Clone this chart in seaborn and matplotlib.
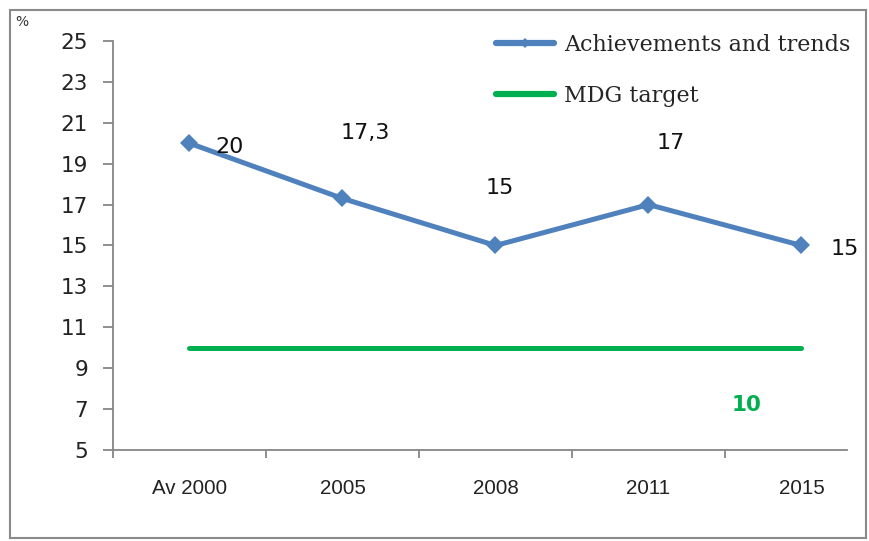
import matplotlib
matplotlib.use("Agg")
import matplotlib.pyplot as plt
import seaborn as sns
import pandas as pd
from matplotlib.patches import Rectangle
from matplotlib.lines import Line2D

categories = ["Av 2000", "2005", "2008", "2011", "2015"]
achievements = [20, 17.3, 15, 17, 15]
mdg_target = [10, 10, 10, 10, 10]
value_labels = ["20", "17,3", "15", "17", "15"]
target_label = "10"
yticks = [5, 7, 9, 11, 13, 15, 17, 19, 21, 23, 25]

sns.set_theme(style="white")
plt.rcParams["font.family"] = ["DejaVu Sans"]

BLUE = "#4F81BD"
GREEN = "#00B050"
GRAY = "#868686"

fig = plt.figure(figsize=(8.7, 5.41), dpi=100)
W, H = 870, 541
ax = fig.add_axes([113 / W, 1 - 450 / H, (847 - 113) / W, (450 - 41) / H])

df = pd.DataFrame({"cat": categories, "ach": achievements, "tgt": mdg_target})
sns.lineplot(data=df, x="cat", y="ach", ax=ax, color=BLUE, linewidth=3.6,
             marker="D", markersize=9, markeredgewidth=0, sort=False)
sns.lineplot(data=df, x="cat", y="tgt", ax=ax, color=GREEN, linewidth=3.6,
             sort=False)

ax.set_xlim(-0.5, -0.5 + (847 - 113) / 153.0)
ax.set_ylim(5, 25)
ax.set_yticks(yticks)
ax.set_yticklabels([str(v) for v in yticks])
ax.set_xticks(range(len(categories)))
ax.set_xticklabels(categories, family=["Liberation Sans", "DejaVu Sans"], fontsize=14.8)
ax.set_xticks([i - 0.5 for i in range(len(categories))], minor=True)
ax.tick_params(axis="x", which="major", bottom=True, length=0, pad=21, colors="#222222")
ax.tick_params(axis="x", which="minor", bottom=True, length=6, width=1.3, color=GRAY,
               direction="out")
ax.tick_params(axis="y", left=True, length=7, width=1.3, color=GRAY, direction="out",
               pad=11, labelsize=15.5, labelcolor="#222222")
ax.set_xlabel("")
ax.set_ylabel("")
for s in ["top", "right"]:
    ax.spines[s].set_visible(False)
for s in ["left", "bottom"]:
    ax.spines[s].set_color(GRAY)
    ax.spines[s].set_linewidth(1.3)

offsets = [(40, -4), (23, 65), (4, 57), (22, 62), (43, -4)]
for i, (lab, off) in enumerate(zip(value_labels, offsets)):
    ax.annotate(lab, (i, achievements[i]), xytext=off, textcoords="offset pixels",
                ha="center", va="center", fontsize=16, color="#111111")
ax.annotate(target_label, (len(categories) - 1, mdg_target[-1]), xytext=(-55, -57),
            textcoords="offset pixels", ha="center", va="center", fontsize=15.5,
            color=GREEN, fontweight="bold")

handles = [Line2D([], [], color=BLUE, linewidth=4.5, marker="D", markersize=5,
                  markeredgewidth=0),
           Line2D([], [], color=GREEN, linewidth=4.5)]
leg = fig.legend(handles, ["Achievements and trends", "MDG target"],
                 loc="upper left", bbox_to_anchor=(476 / W, 1 - 14 / H),
                 frameon=False, handlelength=2.6, handletextpad=0.45,
                 labelspacing=1.3, prop={"family": "DejaVu Serif", "size": 16})

fig.patches.append(Rectangle((10 / W, 1 - 538 / H), (866 - 10) / W, (538 - 10) / H,
                             transform=fig.transFigure, fill=False,
                             edgecolor="#8a8a8a", linewidth=1.5))
fig.text(22 / W, 1 - 22 / H, "%", fontsize=10, ha="center", va="center", color="#333333")

fig.savefig("out.png", dpi=100)
